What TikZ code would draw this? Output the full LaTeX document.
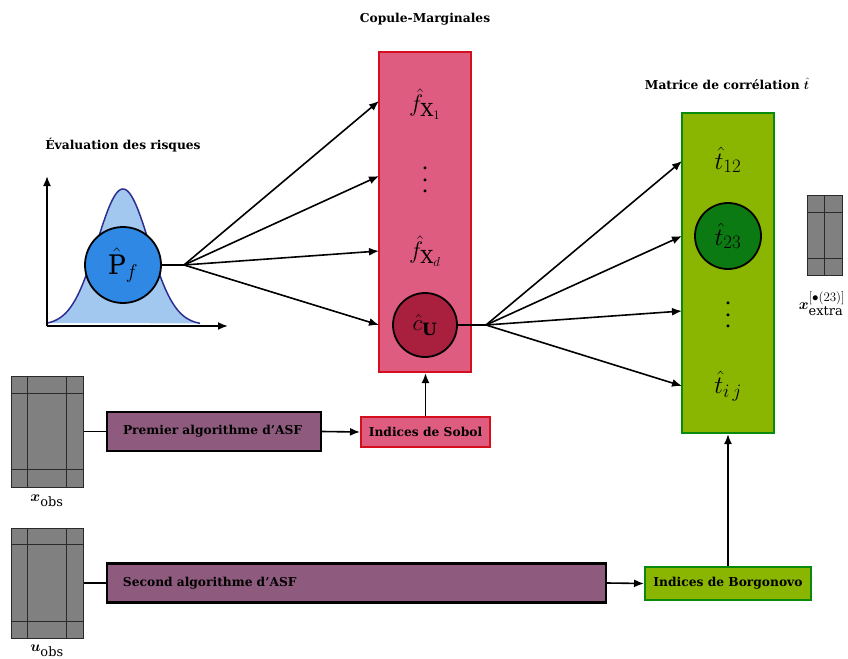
\RequirePackage{fix-cm}
\documentclass[tikz,border=0pt]{standalone}
\usepackage{amsmath,bm}
\usepackage{fontspec}
\setmainfont{DejaVu Serif}
\usetikzlibrary{arrows.meta}
\DeclareMathSizes{15}{15}{13}{10}
\DeclareMathSizes{24}{24}{18}{13}
\DeclareMathSizes{23}{23}{17}{12}
\DeclareMathSizes{25}{25}{19}{13}
\DeclareMathSizes{27}{27}{20}{14}
\definecolor{redfill}{HTML}{DD5C80}
\definecolor{redline}{HTML}{D40E1E}
\definecolor{cufill}{HTML}{A8203E}
\definecolor{greenfill}{HTML}{8AB500}
\definecolor{greenline}{HTML}{0A8A0A}
\definecolor{tfill}{HTML}{0C7A12}
\definecolor{purplefill}{HTML}{8E5B7E}
\definecolor{gaussfill}{HTML}{A2C8F0}
\definecolor{gaussline}{HTML}{2E2E90}
\definecolor{pffill}{HTML}{2E88E4}
\definecolor{matfill}{HTML}{808080}
\definecolor{matline}{HTML}{2A2A2A}
\newcommand{\myvdots}{\vbox{\baselineskip=11.5bp \lineskiplimit=0pt \hbox{.}\hbox{.}\hbox{.}}}
\tikzset{
  arr/.style={-{Latex[length=10bp,width=8bp]}, line width=1.6bp},
  conn/.style={line width=1.6bp},
  boldtext/.style={font=\fontsize{12.3}{14}\selectfont\bfseries},
  titlefont/.style={boldtext},
  bigbox/.style={rectangle, line width=2.2bp, inner sep=0pt, minimum width=92bp, minimum height=320bp},
  redbig/.style={bigbox, draw=redline, fill=redfill},
  greenbig/.style={bigbox, draw=greenline, fill=greenfill},
  circ/.style={circle, draw=black, line width=1.8bp, inner sep=0pt},
  algbox/.style={rectangle, draw=black, fill=purplefill, line width=2.2bp, minimum height=39bp, inner xsep=16bp, inner ysep=0pt, align=left, boldtext},
  idxbox/.style={rectangle, line width=2bp, inner sep=0pt, boldtext},
  matbox/.style={rectangle, fill=matfill, draw=matline, line width=1bp, inner sep=0pt},
  matl/.style={draw=matline, line width=1bp},
  mathlbl/.style={inner sep=0pt},
  dotslbl/.style={inner sep=0pt, font=\fontsize{22}{24}\selectfont},
  veclbl/.style={inner sep=0pt, font=\fontsize{15}{18}\selectfont},
  axisarr/.style={-{Latex[length=10bp,width=8bp]}, line width=1.8bp},
}
\begin{document}
\begin{tikzpicture}[x=1bp,y=-1bp]
\useasboundingbox (0,0) rectangle (848,659);

% titles
\node[titlefont] (ttl1) at (425,19) {Copule-Marginales};
\node[titlefont] (ttl2) at (123,145) {Évaluation des risques};
\node[titlefont] (ttl3) at (727,84) {Matrice de corrélation $\bm{\hat{t}}$};

% gaussian + axes
\fill[gaussfill] plot[domain=47:200,samples=120] (\x,{325-136*exp(-((\x-123)^2)/1352)}) -- cycle;
\draw[gaussline, line width=1.5bp] plot[domain=47:200,samples=120] (\x,{325-136*exp(-((\x-123)^2)/1352)});
\coordinate (origin) at (47,326);
\coordinate (ytip) at (47,176);
\coordinate (xtip) at (228,326);
\draw[axisarr] (origin) -- (ytip);
\draw[axisarr] (origin) -- (xtip);
\node[circ, fill=pffill, minimum size=76bp, font=\fontsize{27}{30}\selectfont] (pf) at (123,265) {$\hat{\mathrm{P}}_f$};

% red box
\node[redbig] (rb) at (425,212) {};
\node[mathlbl, font=\fontsize{24}{27}\selectfont] (f1) at (425,104) {$\hat{f}_{\mathrm{X}_1}$};
\node[dotslbl] (fdots) at (425,180) {\myvdots};
\node[mathlbl, font=\fontsize{24}{27}\selectfont] (fd) at (425,251) {$\hat{f}_{\mathrm{X}_d}$};
\node[circ, fill=cufill, minimum size=64bp, font=\fontsize{23}{26}\selectfont] (cu) at (425,325) {$\hat{c}_{\mathbf{U}}$};

% green box
\node[greenbig] (gb) at (728,273) {};
\node[mathlbl, font=\fontsize{25}{28}\selectfont] (t12) at (728,160) {$\hat{t}_{12}$};
\node[circ, fill=tfill, minimum size=66bp, font=\fontsize{25}{28}\selectfont] (t23) at (728,236) {$\hat{t}_{23}$};
\node[dotslbl] (tdots) at (728,315) {\myvdots};
\node[mathlbl, font=\fontsize{25}{28}\selectfont] (tij) at (728,386) {$\hat{t}_{i\,j}$};

% fan left
\coordinate (fanL) at (184,265);
\coordinate (rin1) at (379,101);
\coordinate (rin2) at (379,176);
\coordinate (rin3) at (379,251);
\coordinate (rin4) at (379,325);
\draw[conn] (pf.east) -- (fanL);
\foreach \t in {rin1,rin2,rin3,rin4} \draw[arr] (fanL) -- (\t);

% fan right
\coordinate (fanR) at (486,325);
\coordinate (gin1) at (682,161);
\coordinate (gin2) at (682,236);
\coordinate (gin3) at (682,311);
\coordinate (gin4) at (682,386);
\draw[conn] (cu.east) -- (fanR);
\foreach \t in {gin1,gin2,gin3,gin4} \draw[arr] (fanR) -- (\t);

% matrices
\node[matbox, minimum width=71bp, minimum height=111bp] (xobs) at (47.5,431.5) {};
\draw[matl] ([xshift=16bp]xobs.north west) -- ([xshift=16bp]xobs.south west);
\draw[matl] ([xshift=-17bp]xobs.north east) -- ([xshift=-17bp]xobs.south east);
\draw[matl] ([yshift=-18bp]xobs.north west) -- ([yshift=-18bp]xobs.north east);
\draw[matl] ([yshift=18bp]xobs.south west) -- ([yshift=18bp]xobs.south east);
\node[veclbl] (xobsl) at (47,501) {$\bm{x}_{\mathrm{obs}}$};

\node[matbox, minimum width=71bp, minimum height=110bp] (uobs) at (47.5,583) {};
\draw[matl] ([xshift=16bp]uobs.north west) -- ([xshift=16bp]uobs.south west);
\draw[matl] ([xshift=-17bp]uobs.north east) -- ([xshift=-17bp]uobs.south east);
\draw[matl] ([yshift=-17bp]uobs.north west) -- ([yshift=-17bp]uobs.north east);
\draw[matl] ([yshift=17bp]uobs.south west) -- ([yshift=17bp]uobs.south east);
\node[veclbl] (uobsl) at (47,651) {$\bm{u}_{\mathrm{obs}}$};

\node[matbox, minimum width=35bp, minimum height=80bp] (xext) at (824.5,235) {};
\draw[matl] (xext.north) -- (xext.south);
\draw[matl] ([yshift=-18bp]xext.north west) -- ([yshift=-18bp]xext.north east);
\draw[matl] ([yshift=17bp]xext.south west) -- ([yshift=17bp]xext.south east);
\node[veclbl] (xextl) at (822,304) {$\bm{x}_{\mathrm{extra}}^{[\bullet(23)]}$};

% algorithm boxes
\node[algbox, text width=182bp] (alg1) at (214,431.5) {Premier algorithme d'ASF};
\node[algbox, text width=467bp] (alg2) at (356.5,583) {Second algorithme d'ASF};

% index boxes
\node[idxbox, draw=redline, fill=redfill, minimum width=129bp, minimum height=30bp] (sobol) at (425.5,432) {Indices de Sobol};
\node[idxbox, draw=greenline, fill=greenfill, minimum width=166bp, minimum height=33bp] (borg) at (728,583.5) {Indices de Borgonovo};

% connectors
\draw[conn] (xobs.east) -- (alg1.west);
\draw[conn] (uobs.east) -- (alg2.west);
\draw[arr] (alg1.east) -- (sobol.west);
\draw[arr] (alg2.east) -- (borg.west);
\draw[arr] (sobol.north) -- (sobol.north |- rb.south);
\draw[arr] (borg.north) -- (gb.south);
\end{tikzpicture}
\end{document}
